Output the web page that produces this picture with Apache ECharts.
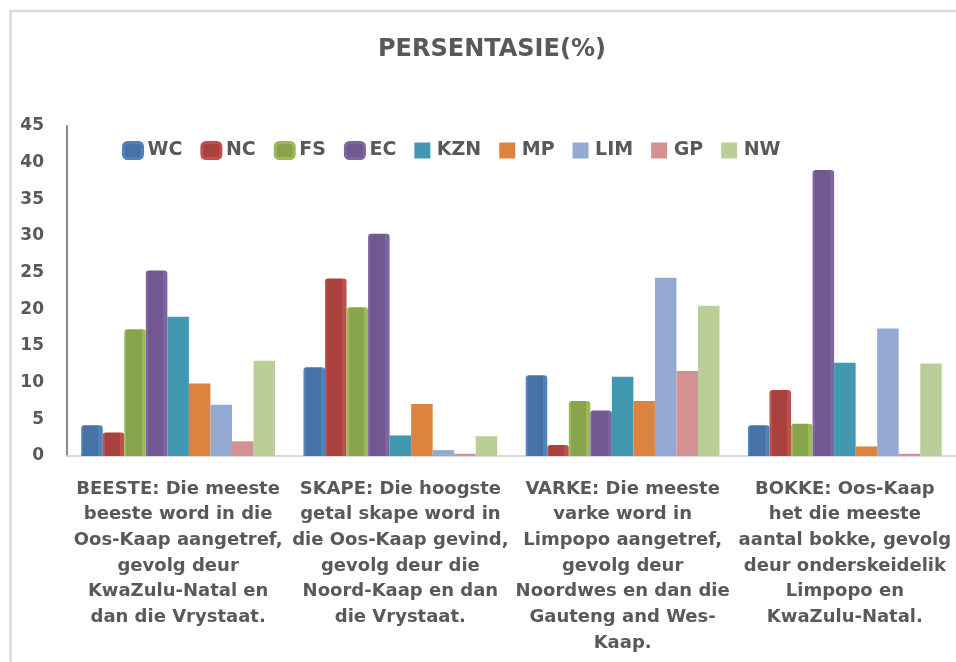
<!DOCTYPE html>
<html>
<head>
<meta charset="utf-8">
<script src="https://cdn.jsdelivr.net/npm/echarts@6/dist/echarts.min.js"></script>
<style>
  html, body { margin: 0; padding: 0; background: #fff; }
  #chart { width: 956px; height: 662px; }
</style>
</head>
<body>
<div id="chart"></div>
<script>
// categories (x axis), text wraps
const categories = [
  "BEESTE: Die meeste\nbeeste word in die\nOos-Kaap aangetref,\ngevolg deur\nKwaZulu-Natal en\ndan die Vrystaat.",
  "SKAPE: Die hoogste\ngetal skape word in\ndie Oos-Kaap gevind,\ngevolg deur die\nNoord-Kaap en dan\ndie Vrystaat.",
  "VARKE: Die meeste\nvarke word in\nLimpopo aangetref,\ngevolg deur\nNoordwes en dan die\nGauteng and Wes-\nKaap.",
  "BOKKE: Oos-Kaap\nhet die meeste\naantal bokke, gevolg\ndeur onderskeidelik\nLimpopo en\nKwaZulu-Natal."
];

const provinces = ["WC", "NC", "FS", "EC", "KZN", "MP", "LIM", "GP", "NW"];

// percentage per province, in category order
const wc  = [4.2, 12.1, 11.0, 4.2];
const nc  = [3.2, 24.2, 1.5, 9.0];
const fs  = [17.3, 20.3, 7.5, 4.4];
const ec  = [25.3, 30.3, 6.2, 39.0];
const kzn = [19.0, 2.8, 10.8, 12.7];
const mp  = [9.9, 7.1, 7.5, 1.3];
const lim = [7.0, 0.8, 24.3, 17.4];
const gp  = [2.0, 0.3, 11.6, 0.3];
const nw  = [13.0, 2.7, 20.5, 12.6];

const yTicks = { min: 0, max: 45, interval: 5 };

const allValues = [wc, nc, fs, ec, kzn, mp, lim, gp, nw];

// fill / edge colours (first four have the bevelled look)
const fills = ["#4672a8", "#a9423f", "#88a44c", "#715890", "#4298b0", "#dc843d", "#94aad2", "#d39291", "#bacf97"];
const edges = ["#4f81bd", "#c0504d", "#9bbb59", "#8064a2", null, null, null, null, null];

const txt = "#595959";
const fam = "DejaVu Sans";

function bevel(dark, light) {
  return {
    type: "linear", x: 0, y: 0, x2: 1, y2: 0,
    colorStops: [
      { offset: 0, color: light }, { offset: 0.1, color: light },
      { offset: 0.1, color: dark }, { offset: 0.8, color: dark },
      { offset: 0.8, color: light }, { offset: 1, color: light }
    ]
  };
}

const series = provinces.map((p, i) => ({
  name: p,
  type: "bar",
  barGap: "0%",
  barCategoryGap: "12.8%",
  data: allValues[i],
  itemStyle: edges[i]
    ? { color: bevel(fills[i], edges[i]), borderRadius: [3, 3, 0, 0] }
    : { color: fills[i] }
}));

const legendData = provinces.map((p, i) => {
  if (edges[i]) {
    return {
      name: p, icon: "roundRect",
      itemStyle: { color: fills[i], borderColor: edges[i], borderWidth: 3 }
    };
  }
  return { name: p, icon: "path://M0,0H10V10H0Z", itemStyle: { color: fills[i] } };
});

const chart = echarts.init(document.getElementById("chart"));
chart.setOption({
  animation: false,
  backgroundColor: "#fff",
  title: {
    text: "PERSENTASIE(%)",
    left: 373,
    top: 33,
    textStyle: { color: txt, fontFamily: fam, fontWeight: "bold", fontSize: 24 }
  },
  legend: {
    data: legendData,
    left: 122,
    top: 141,
    padding: 0,
    itemGap: 18,
    itemWidth: 19,
    itemHeight: 16,
    itemTextGap: 4,
    textStyle: { color: txt, fontFamily: fam, fontWeight: "bold", fontSize: 19 }
  },
  grid: { left: 67, top: 126, width: 896, height: 330 },
  xAxis: {
    type: "category",
    data: categories,
    axisLine: { lineStyle: { color: "#d9d9d9", width: 2 } },
    axisTick: { show: false },
    axisLabel: {
      interval: 0,
      margin: 20,
      color: txt,
      fontFamily: fam,
      fontWeight: "bold",
      fontSize: 18,
      lineHeight: 25.7,
      align: "center"
    }
  },
  yAxis: {
    type: "value",
    min: yTicks.min,
    max: yTicks.max,
    interval: yTicks.interval,
    axisLine: { show: true, lineStyle: { color: "#898989", width: 2 } },
    axisTick: { show: false },
    splitLine: { show: false },
    axisLabel: {
      margin: 23,
      color: txt,
      fontFamily: fam,
      fontWeight: "bold",
      fontSize: 17
    }
  },
  graphic: [
    {
      type: "polyline",
      shape: { points: [[10.5, 662], [10.5, 11], [956, 11]] },
      style: { stroke: "#d9d9d9", lineWidth: 2.5, fill: null },
      silent: true
    }
  ],
  series: series
});
</script>
</body>
</html>
